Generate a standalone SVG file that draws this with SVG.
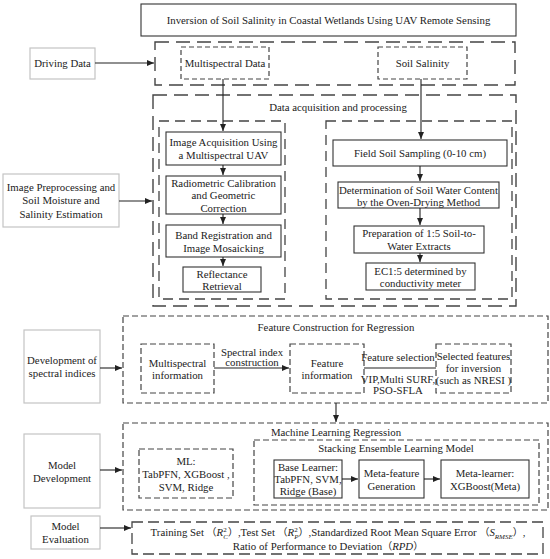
<svg xmlns="http://www.w3.org/2000/svg" width="550" height="559" viewBox="0 0 550 559" font-family="'Liberation Serif', 'Times New Roman', Times, serif">
<defs>
<marker id="ah" markerWidth="8" markerHeight="8" refX="7" refY="4" orient="auto" markerUnits="userSpaceOnUse">
<path d="M0,1 L7,4 L0,7 Z" fill="#222"/>
</marker>
<style>
text{font-size:10.8px;fill:#222;text-anchor:middle}
.cjk{font-family:"Noto Sans CJK SC",sans-serif;font-size:10px}
.solid{fill:#fff;stroke:#333;stroke-width:1.1}
.gray{fill:#fff;stroke:#c4c4c4;stroke-width:1.2}
.d1{fill:none;stroke:#444;stroke-width:1.4;stroke-dasharray:14 7}
.d2{fill:none;stroke:#444;stroke-width:1.2;stroke-dasharray:5 3}
.d3{fill:none;stroke:#444;stroke-width:1.3;stroke-dasharray:10 6}
.d4{fill:none;stroke:#444;stroke-width:1.2;stroke-dasharray:6 3}
.d5{fill:none;stroke:#444;stroke-width:1.3;stroke-dasharray:11 5}
.c{fill:none;stroke:#222;stroke-width:1.1}
.i{font-style:italic}
</style>
</defs>
<rect width="550" height="559" fill="#fff"/>

<g id="title"><rect class="solid" x="141" y="4" width="375" height="32"/><text x="328.5" y="24">Inversion of Soil  Salinity in Coastal Wetlands Using UAV Remote Sensing</text></g>

<g id="driving-data"><rect class="gray" x="30" y="48" width="65" height="31"/><text x="62.5" y="67">Driving Data</text></g>
<g id="driving-group"><rect class="d1" x="155" y="42" width="360" height="43"/></g>
<g id="multispectral-data"><rect class="d2" x="181" y="47" width="88" height="32"/><text x="225" y="67">Multispectral Data</text></g>
<g id="soil-salinity"><rect class="d2" x="378" y="47" width="89" height="32"/><text x="422.5" y="67">Soil Salinity</text></g>

<g id="image-preprocessing"><rect class="gray" x="3" y="174" width="116" height="53"/><text x="61" y="190.5">Image Preprocessing and</text><text x="61" y="204">Soil Moisture and</text><text x="61" y="217.5">Salinity Estimation</text></g>
<g id="data-acquisition"><rect class="d1" x="153" y="95" width="363" height="211"/><text x="338" y="111">Data acquisition and processing</text></g>
<g id="uav-branch"><rect class="d3" x="159" y="121" width="126" height="178"/></g>
<g id="soil-branch"><rect class="d3" x="326" y="121" width="186" height="178"/></g>

<g id="image-acquisition"><rect class="solid" x="166" y="132" width="115" height="33"/><text x="223.5" y="145.5">Image Acquisition Using</text><text x="223.5" y="159">a Multispectral UAV</text></g>
<g id="radiometric"><rect class="solid" x="166" y="176" width="115" height="38"/><text x="223.5" y="186.5">Radiometric Calibration</text><text x="223.5" y="199">and Geometric</text><text x="223.5" y="211.5">Correction</text></g>
<g id="band-registration"><rect class="solid" x="166" y="225" width="115" height="32"/><text x="223.5" y="238.5">Band Registration and</text><text x="223.5" y="251.5">Image Mosaicking</text></g>
<g id="reflectance"><rect class="solid" x="183" y="267" width="78" height="25"/><text x="222" y="277.5">Reflectance</text><text x="222" y="289.5">Retrieval</text></g>

<g id="field-sampling"><rect class="solid" x="333" y="140" width="174" height="26"/><text x="420" y="157">Field Soil Sampling (0-10 cm)</text></g>
<g id="water-content"><rect class="solid" x="338" y="182" width="161" height="26"/><text x="418.5" y="193.5">Determination of Soil Water Content</text><text x="418.5" y="205.5">by the Oven-Drying Method</text></g>
<g id="extracts"><rect class="solid" x="354" y="226" width="130" height="27"/><text x="419" y="237">Preparation of 1:5 Soil-to-</text><text x="419" y="249.5">Water Extracts</text></g>
<g id="ec"><rect class="solid" x="366" y="263" width="109" height="27"/><text x="420.5" y="274.5">EC1:5 determined by</text><text x="420.5" y="287">conductivity meter</text></g>

<g id="spectral-indices"><rect class="gray" x="24" y="330" width="76" height="73"/><text x="62" y="363.5">Development of</text><text x="62" y="376.5">spectral indices</text></g>
<g id="feature-construction"><rect class="d4" x="123" y="316" width="425" height="87"/><text x="336" y="331">Feature Construction for Regression</text></g>
<g id="multispectral-info"><rect class="d4" x="141" y="344" width="73" height="49"/><text x="177.5" y="366.5">Multispectral</text><text x="177.5" y="379">information</text></g>
<g id="feature-info"><rect class="d4" x="290" y="344" width="74" height="49"/><text x="327" y="366.5">Feature</text><text x="327" y="379">information</text></g>
<g id="selected-features"><rect class="d4" x="436" y="344" width="75" height="49"/><text x="473.5" y="359.5">Selected features</text><text x="473.5" y="371.5">for inversion</text><text x="473.5" y="383.5">(such as NRESI )</text></g>

<g id="model-development"><rect class="gray" x="24" y="434" width="76" height="74"/><text x="62" y="468.5">Model</text><text x="62" y="481.5">Development</text></g>
<g id="ml-regression"><rect class="d4" x="123" y="423" width="425" height="87"/><text x="336" y="435.5">Machine Learning Regression</text></g>
<g id="ml-models"><rect class="d4" x="139" y="449" width="94" height="49"/><text x="186" y="464.5">ML:</text><text x="186" y="477.5">TabPFN, XGBoost ,</text><text x="186" y="490.5">SVM, Ridge</text></g>
<g id="stacking"><rect class="d4" x="254" y="440" width="285" height="65"/><text x="396" y="452">Stacking Ensemble Learning Model</text></g>
<g id="base-learner"><rect class="solid" x="274" y="460" width="68" height="38"/><text x="308" y="470.5">Base Learner:</text><text x="308" y="482.5">TabPFN, SVM,</text><text x="308" y="494.5">Ridge (Base)</text></g>
<g id="meta-feature"><rect class="solid" x="359" y="460" width="65" height="38"/><text x="391.5" y="476.5">Meta-feature</text><text x="391.5" y="489.5">Generation</text></g>
<g id="meta-learner"><rect class="solid" x="441" y="460" width="88" height="38"/><text x="485" y="476.5">Meta-learner:</text><text x="485" y="489.5">XGBoost(Meta)</text></g>

<g id="model-evaluation"><rect class="gray" x="31" y="516" width="69" height="33"/><text x="65.5" y="529.5">Model</text><text x="65.5" y="542.5">Evaluation</text></g>
<g id="metrics"><rect class="d5" x="132" y="522" width="411" height="32"/>
<text x="338" y="536">Training Set <tspan class="cjk">（</tspan><tspan class="i">R</tspan><tspan font-size="7" dy="-4">2</tspan><tspan class="i" font-size="7" dx="-3.5" dy="6.5">C</tspan><tspan class="cjk" dy="-2.5">）</tspan>,Test Set <tspan class="cjk">（</tspan><tspan class="i">R</tspan><tspan font-size="7" dy="-4">2</tspan><tspan class="i" font-size="7" dx="-3.5" dy="6.5">P</tspan><tspan class="cjk" dy="-2.5">）</tspan>,Standardized Root Mean Square Error <tspan class="cjk">（</tspan><tspan class="i">S</tspan><tspan class="i" font-size="7" dy="2.5">RMSE</tspan><tspan class="cjk" dy="-2.5">）</tspan>,</text>
<text x="328" y="550">Ratio of Performance to Deviation<tspan class="cjk">（</tspan><tspan class="i">RPD</tspan><tspan class="cjk">）</tspan></text></g>

<g id="connectors">
<line class="c" x1="95" y1="63" x2="154" y2="63" marker-end="url(#ah)"/>
<line class="c" x1="223" y1="79" x2="223" y2="131" marker-end="url(#ah)"/>
<line class="c" x1="421" y1="79" x2="421" y2="139" marker-end="url(#ah)"/>
<line class="c" x1="119" y1="201" x2="152" y2="201" marker-end="url(#ah)"/>
<line class="c" x1="223" y1="165" x2="223" y2="175" marker-end="url(#ah)"/>
<line class="c" x1="223" y1="214" x2="223" y2="224" marker-end="url(#ah)"/>
<line class="c" x1="223" y1="257" x2="223" y2="266" marker-end="url(#ah)"/>
<line class="c" x1="420" y1="166" x2="420" y2="181" marker-end="url(#ah)"/>
<line class="c" x1="420" y1="208" x2="420" y2="225" marker-end="url(#ah)"/>
<line class="c" x1="420" y1="253" x2="420" y2="262" marker-end="url(#ah)"/>
<line class="c" x1="100" y1="368" x2="122" y2="368" marker-end="url(#ah)"/>
<line class="c" x1="214" y1="368" x2="289" y2="368" marker-end="url(#ah)"/>
<text x="252" y="355.5">Spectral index</text><text x="252" y="366">construction</text>
<line class="c" x1="364" y1="368" x2="436" y2="368"/>
<text x="398" y="361">Feature selection</text>
<text x="398" y="382.5">VIP,Multi SURF,</text><text x="398" y="394">PSO-SFLA</text>
<line class="c" x1="336" y1="403" x2="336" y2="422" marker-end="url(#ah)"/>
<line class="c" x1="100" y1="470" x2="122" y2="470" marker-end="url(#ah)"/>
<line class="c" x1="342" y1="479" x2="358" y2="479" marker-end="url(#ah)"/>
<line class="c" x1="424" y1="479" x2="440" y2="479" marker-end="url(#ah)"/>
<line class="c" x1="100" y1="528" x2="131" y2="528" marker-end="url(#ah)"/>
</g>
</svg>
